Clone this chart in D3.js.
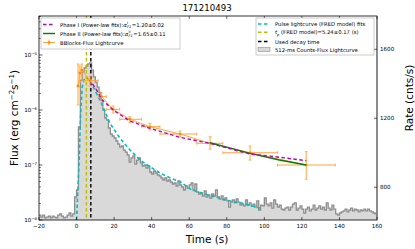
<!DOCTYPE html>
<html><head><meta charset="utf-8">
<script src="https://cdn.jsdelivr.net/npm/d3@7"></script>
<style>body{margin:0;background:#fff}svg{display:block}text{font-family:"DejaVu Sans",sans-serif;fill:#000}</style>
</head><body><svg id="c" width="415" height="249"></svg>
<script>
const title = "171210493";
// 512-ms counts-flux lightcurve (read at ~1 s resolution), start time and step (s)
const histStart = -20, histStep = 1;
const histFlux = [
1.23e-8,1.13e-8,1.23e-8,1.09e-8,1.13e-8,1.18e-8,1.09e-8,1.18e-8,1.13e-8,1.09e-8,
1.23e-8,1.29e-8,1.18e-8,1.09e-8,1.13e-8,1.23e-8,1.34e-8,1.18e-8,1.29e-8,2.62e-8,
3.51e-8,4.91e-7,3.5e-6,4.9e-6,5.8e-6,6.3e-6,6.9e-6,7.2e-6,5.3e-6,4.0e-6,
3.2e-6,2.6e-6,2.1e-6,1.5e-6,1.0e-6,7.15e-7,6.58e-7,4.71e-7,3.66e-7,3.37e-7,
3.10e-7,2.73e-7,2.41e-7,2.12e-7,2.22e-7,1.87e-7,1.72e-7,1.52e-7,1.13e-7,1.34e-7,
1.46e-7,1.04e-7,1.23e-7,1.34e-7,1.09e-7,9.59e-8,1.0e-7,8.82e-8,9.59e-8,7.46e-8,
6.86e-8,7.78e-8,7.15e-8,6.58e-8,6.31e-8,5.80e-8,5.34e-8,5.80e-8,5.12e-8,5.34e-8,
4.91e-8,4.51e-8,4.71e-8,4.15e-8,5.12e-8,4.33e-8,3.98e-8,3.51e-8,4.15e-8,3.82e-8,
4.33e-8,4.71e-8,3.51e-8,4.51e-8,3.23e-8,2.97e-8,3.10e-8,2.73e-8,3.37e-8,2.62e-8,
2.85e-8,2.51e-8,2.97e-8,2.73e-8,3.51e-8,2.62e-8,2.41e-8,2.73e-8,2.31e-8,2.51e-8,
2.22e-8,1.72e-8,2.12e-8,2.31e-8,2.04e-8,2.41e-8,2.12e-8,1.87e-8,1.95e-8,1.80e-8,
2.31e-8,1.87e-8,2.04e-8,1.80e-8,1.95e-8,1.72e-8,2.22e-8,1.52e-8,1.87e-8,1.80e-8,
2.51e-8,1.95e-8,1.80e-8,2.04e-8,1.65e-8,2.31e-8,1.95e-8,1.72e-8,1.87e-8,1.58e-8,
1.52e-8,1.65e-8,1.72e-8,1.52e-8,1.72e-8,1.95e-8,2.04e-8,1.52e-8,1.65e-8,1.80e-8,
1.58e-8,1.34e-8,1.58e-8,1.72e-8,1.46e-8,1.58e-8,1.87e-8,1.52e-8,1.65e-8,1.80e-8,
1.58e-8,1.72e-8,1.52e-8,2.04e-8,1.65e-8,1.52e-8,1.87e-8,1.58e-8,1.29e-8,1.23e-8,
1.34e-8,1.40e-8,1.46e-8,1.58e-8,1.40e-8,1.52e-8,1.65e-8,1.46e-8,1.58e-8,1.52e-8,
1.40e-8,1.52e-8,1.46e-8,1.58e-8,1.46e-8,1.58e-8,1.46e-8,1.40e-8,1.34e-8,1.29e-8];
// FRED model fit
const fredT    = [0, 0.7, 1.4, 2.1, 3.0, 3.9, 5.2, 7.1, 10, 13.3, 17.7, 23, 28.5, 33.8, 39, 44.5, 49.9, 55.3, 61.4, 70.4, 79.4, 88.3, 97.8];
const fredFlux = [1.0e-8, 3.51e-8, 1.23e-7, 7.46e-7, 2.62e-6, 3.5e-6, 3.98e-6, 3.41e-6, 2.21e-6, 1.32e-6, 5.8e-7, 3.1e-7, 1.87e-7, 1.23e-7, 9.31e-8, 7.15e-8, 5.8e-8, 4.91e-8, 3.51e-8, 2.85e-8, 2.31e-8, 2.01e-8, 1.63e-8];
// BBlocks flux lightcurve
const bbT   = [0.8, 1.8, 2.8, 7.2, 13.3, 19.5, 28.4, 39.1, 55.1, 71.1, 92.4, 122.3];
const bbTlo = [0.3, 1.3, 2.3, 3.5, 11.5, 16.0, 23.0, 34.6, 44.4, 64.0, 77.9, 107.0];
const bbThi = [1.3, 2.3, 3.5, 11.5, 16.0, 23.0, 34.6, 44.4, 64.0, 77.9, 107.0, 137.8];
const bbF   = [2.73e-6, 4.71e-6, 5.34e-6, 3.41e-6, 1.75e-6, 1.03e-6, 6.78e-7, 4.97e-7, 3.66e-7, 2.48e-7, 1.67e-7, 1.0e-7];
const bbFlo = [1.23e-6, 3.23e-6, 3.98e-6, 2.73e-6, 1.52e-6, 8.82e-7, 5.87e-7, 4.33e-7, 3.23e-7, 1.93e-7, 1.23e-7, 5.5e-8];
const bbFhi = [6.86e-6, 6.31e-6, 6.86e-6, 4.15e-6, 2.04e-6, 1.18e-6, 7.55e-7, 5.73e-7, 4.15e-7, 3.27e-7, 2.22e-7, 1.75e-7];
// Phase I and Phase II power-law fits
const p1T = [8.5, 10.7, 13.3, 19.5, 28.4, 39, 55, 71, 92.4, 108.4, 122.3];
const p1F = [2.97e-6, 2.31e-6, 1.56e-6, 1.0e-6, 6.31e-7, 4.65e-7, 3.19e-7, 2.48e-7, 1.58e-7, 1.38e-7, 1.2e-7];
const p2T = [71.1, 92.4, 108, 122.3];
const p2F = [2.54e-7, 1.63e-7, 1.23e-7, 1.0e-7];
const tPeak = 5.24, tDecay = 7.6;
const xTicks = [-20, 0, 20, 40, 60, 80, 100, 120, 140, 160];
const yTicks = [1e-8, 1e-7, 1e-6, 1e-5];
const yTickExp = ["\u22128", "\u22127", "\u22126", "\u22125"];
const rateTicks = [800, 1200, 1600];
const leftLegend = ["Phase I (Power-law fits): ", "Phase II (Power-law fits): ", "BBlocks-Flux Lightcurve"];
const leftAlpha = [["I", "=1.20\u00b10.02"], ["II", "=1.65\u00b10.11"]];
const rightLegend = ["Pulse lightcurve (FRED model) fits", " (FRED model)=5.24\u00b10.17 (s)", "Used decay time", "512-ms Counts-Flux Lightcurve"];

const L = 39, R = 377, T = 16, B = 220;
const svg = d3.select("#c");
const x = d3.scaleLinear().domain([-20, 160]).range([L, R]);
const y = d3.scaleLog().domain([1e-8, Math.pow(10, -8 + (B - T) / 55)]).range([B, T]);
const yr = d3.scaleLinear().domain([610, 1793]).range([B, T]);

svg.append("defs").append("clipPath").attr("id", "clip")
  .append("rect").attr("x", L).attr("y", T).attr("width", R - L).attr("height", B - T);
const g = svg.append("g").attr("clip-path", "url(#clip)");

// histogram
let pts = [[x(histStart), B]];
histFlux.forEach((v, i) => {
  const t0 = histStart + i * histStep, t1 = t0 + histStep;
  pts.push([x(t0), y(v)], [x(t1), y(v)]);
});
pts.push([x(histStart + histFlux.length * histStep), B]);
g.append("path").attr("d", d3.line()(pts)).attr("fill", "#d9d9d9").attr("stroke", "none");
g.append("path").attr("d", d3.line()(pts.slice(1, -1))).attr("fill", "none").attr("stroke", "#8e8e8e").attr("stroke-width", 1.3);

const line = d3.line().x(d => x(d[0])).y(d => y(d[1]));
// FRED
g.append("path").attr("d", line(fredT.map((t, i) => [t, fredFlux[i]])))
  .attr("fill", "none").attr("stroke", "#00bfbf").attr("stroke-width", 1.6).attr("stroke-dasharray", "3.5,2.5");
// vertical lines
g.append("line").attr("x1", x(tPeak)).attr("x2", x(tPeak)).attr("y1", T).attr("y2", B)
  .attr("stroke", "#bfbf00").attr("stroke-width", 1.4).attr("stroke-dasharray", "3.5,2.5");
g.append("line").attr("x1", x(tDecay)).attr("x2", x(tDecay)).attr("y1", T).attr("y2", B)
  .attr("stroke", "#000").attr("stroke-width", 1.4).attr("stroke-dasharray", "3.5,2.5");
// BBlocks
const orange = "#ffa53a";
g.append("path").attr("d", line(bbT.map((t, i) => [t, bbF[i]]))).attr("fill", "none").attr("stroke", orange).attr("stroke-width", 1);
bbT.forEach((t, i) => {
  const cy = y(bbF[i]), cx = x(t);
  g.append("line").attr("x1", x(bbTlo[i])).attr("x2", x(bbThi[i])).attr("y1", cy).attr("y2", cy).attr("stroke", orange).attr("stroke-width", 1);
  g.append("line").attr("x1", cx).attr("x2", cx).attr("y1", y(bbFlo[i])).attr("y2", y(bbFhi[i])).attr("stroke", orange).attr("stroke-width", 1);
  [x(bbTlo[i]), x(bbThi[i])].forEach(xx => g.append("line").attr("x1", xx).attr("x2", xx).attr("y1", cy - 1.5).attr("y2", cy + 1.5).attr("stroke", orange).attr("stroke-width", 0.8));
  [y(bbFlo[i]), y(bbFhi[i])].forEach(yy => g.append("line").attr("x1", cx - 1.5).attr("x2", cx + 1.5).attr("y1", yy).attr("y2", yy).attr("stroke", orange).attr("stroke-width", 0.8));
  g.append("circle").attr("cx", cx).attr("cy", cy).attr("r", 1.3).attr("fill", "#ff8c00");
});
// power-law fits
g.append("path").attr("d", line(p2T.map((t, i) => [t, p2F[i]]))).attr("fill", "none").attr("stroke", "#008000").attr("stroke-width", 1.4);
g.append("path").attr("d", line(p1T.map((t, i) => [t, p1F[i]]))).attr("fill", "none").attr("stroke", "#bf00bf").attr("stroke-width", 1.4).attr("stroke-dasharray", "3.5,2.5");

// frame
svg.append("rect").attr("x", L).attr("y", T).attr("width", R - L).attr("height", B - T).attr("fill", "none").attr("stroke", "#000").attr("stroke-width", 0.8);
svg.append("line").attr("x1", R).attr("x2", R).attr("y1", T).attr("y2", B).attr("stroke", "#888").attr("stroke-width", 1.6);

// x ticks
const fs = 5.6;
xTicks.forEach(t => {
  const xx = x(t);
  svg.append("line").attr("x1", xx).attr("x2", xx).attr("y1", B).attr("y2", B - 3).attr("stroke", "#000").attr("stroke-width", 0.6);
  svg.append("line").attr("x1", xx).attr("x2", xx).attr("y1", T).attr("y2", T + 3).attr("stroke", "#000").attr("stroke-width", 0.6);
  svg.append("text").attr("x", xx).attr("y", B + 7.5).attr("text-anchor", "middle").attr("font-size", fs).text(t < 0 ? "\u2212" + (-t) : t);
});
// y log ticks
yTicks.forEach((v, i) => {
  const yy = y(v);
  svg.append("line").attr("x1", L).attr("x2", L + 3.5).attr("y1", yy).attr("y2", yy).attr("stroke", "#000").attr("stroke-width", 0.6);
  const tx = svg.append("text").attr("x", L - 2).attr("y", yy + 2).attr("text-anchor", "end").attr("font-size", fs);
  tx.append("tspan").text("10");
  tx.append("tspan").attr("dy", -2.5).attr("font-size", 3.8).text(yTickExp[i]);
  for (let k = 2; k < 10; k++) {
    const my = y(v * k);
    if (my < T) break;
    svg.append("line").attr("x1", L).attr("x2", L + 2).attr("y1", my).attr("y2", my).attr("stroke", "#000").attr("stroke-width", 0.5);
  }
});
// right rate ticks
rateTicks.forEach(v => {
  const yy = yr(v);
  svg.append("line").attr("x1", R).attr("x2", R - 3).attr("y1", yy).attr("y2", yy).attr("stroke", "#000").attr("stroke-width", 0.6);
  svg.append("text").attr("x", R + 3).attr("y", yy + 2).attr("font-size", fs).text(v);
});

// labels
svg.append("text").attr("x", 207).attr("y", 11).attr("text-anchor", "middle").attr("font-size", 8.6).text(title);
svg.append("text").attr("x", 207).attr("y", 243).attr("text-anchor", "middle").attr("font-size", 10.5).text("Time (s)");
const fl = svg.append("text").attr("transform", "translate(18,118) rotate(-90)").attr("text-anchor", "middle").attr("font-size", 10.5);
fl.append("tspan").text("Flux (erg cm");
fl.append("tspan").attr("dy", -4).attr("font-size", 7).text("\u22122");
fl.append("tspan").attr("dy", 4).text("s");
fl.append("tspan").attr("dy", -4).attr("font-size", 7).text("\u22121");
fl.append("tspan").attr("dy", 4).text(")");
svg.append("text").attr("transform", "translate(413,98) rotate(-90)").attr("text-anchor", "middle").attr("font-size", 10.5).text("Rate (cnts/s)");

// left legend
const lfs = 5.3;
svg.append("rect").attr("x", 41).attr("y", 18).attr("width", 139).attr("height", 31).attr("fill", "#fff").attr("stroke", "#aaa").attr("stroke-width", 0.6);
const ly = [24.5, 33.5, 42.5];
svg.append("line").attr("x1", 43).attr("x2", 55).attr("y1", ly[0]).attr("y2", ly[0]).attr("stroke", "#bf00bf").attr("stroke-width", 1.4).attr("stroke-dasharray", "3.5,2.5");
svg.append("line").attr("x1", 43).attr("x2", 55).attr("y1", ly[1]).attr("y2", ly[1]).attr("stroke", "#008000").attr("stroke-width", 1.4);
svg.append("line").attr("x1", 43).attr("x2", 55).attr("y1", ly[2]).attr("y2", ly[2]).attr("stroke", orange).attr("stroke-width", 1);
svg.append("line").attr("x1", 49).attr("x2", 49).attr("y1", ly[2] - 3).attr("y2", ly[2] + 3).attr("stroke", orange).attr("stroke-width", 1);
svg.append("circle").attr("cx", 49).attr("cy", ly[2]).attr("r", 1.3).attr("fill", "#ff8c00");
leftLegend.forEach((s, i) => {
  const tx = svg.append("text").attr("x", 60).attr("y", ly[i] + 2).attr("font-size", lfs).text(s);
  if (i < 2) {
    const w = tx.node().getComputedTextLength();
    const a = svg.append("text").attr("x", 60 + w).attr("y", ly[i] + 2).attr("font-size", lfs).attr("font-style", "italic").text("\u03b1");
    const aw = a.node().getComputedTextLength();
    const sx = 60 + w + aw + 0.3;
    const sup = svg.append("text").attr("x", sx).attr("y", ly[i] - 0.6).attr("font-size", 3.6).text(leftAlpha[i][0]);
    const sub = svg.append("text").attr("x", sx).attr("y", ly[i] + 3.4).attr("font-size", 3.6).attr("font-style", "italic").text("F1");
    const ew = Math.max(sup.node().getComputedTextLength(), sub.node().getComputedTextLength());
    svg.append("text").attr("x", sx + ew + 0.4).attr("y", ly[i] + 2).attr("font-size", lfs).text(leftAlpha[i][1]);
  }
});

// right legend
svg.append("rect").attr("x", 256).attr("y", 18).attr("width", 118).attr("height", 37).attr("fill", "#fff").attr("stroke", "#aaa").attr("stroke-width", 0.6);
const ry = [24, 32.3, 41.5, 49.6];
[["#00bfbf"], ["#bfbf00"], ["#000"]].forEach((c, i) => {
  svg.append("line").attr("x1", 258).attr("x2", 270).attr("y1", ry[i]).attr("y2", ry[i]).attr("stroke", c[0]).attr("stroke-width", 1.4).attr("stroke-dasharray", "3.5,2.5");
});
svg.append("rect").attr("x", 258).attr("y", ry[3] - 2).attr("width", 12).attr("height", 4).attr("fill", "#d9d9d9").attr("stroke", "#8e8e8e").attr("stroke-width", 0.6);
rightLegend.forEach((s, i) => {
  const tx = svg.append("text").attr("x", 275).attr("y", ry[i] + 2).attr("font-size", lfs);
  if (i === 1) {
    tx.append("tspan").attr("font-style", "italic").text("t");
    tx.append("tspan").attr("dy", 1.2).attr("font-size", 3.6).attr("font-style", "italic").text("p");
    tx.append("tspan").attr("dy", -1.2).text(s);
  } else tx.text(s);
});
</script></body></html>
